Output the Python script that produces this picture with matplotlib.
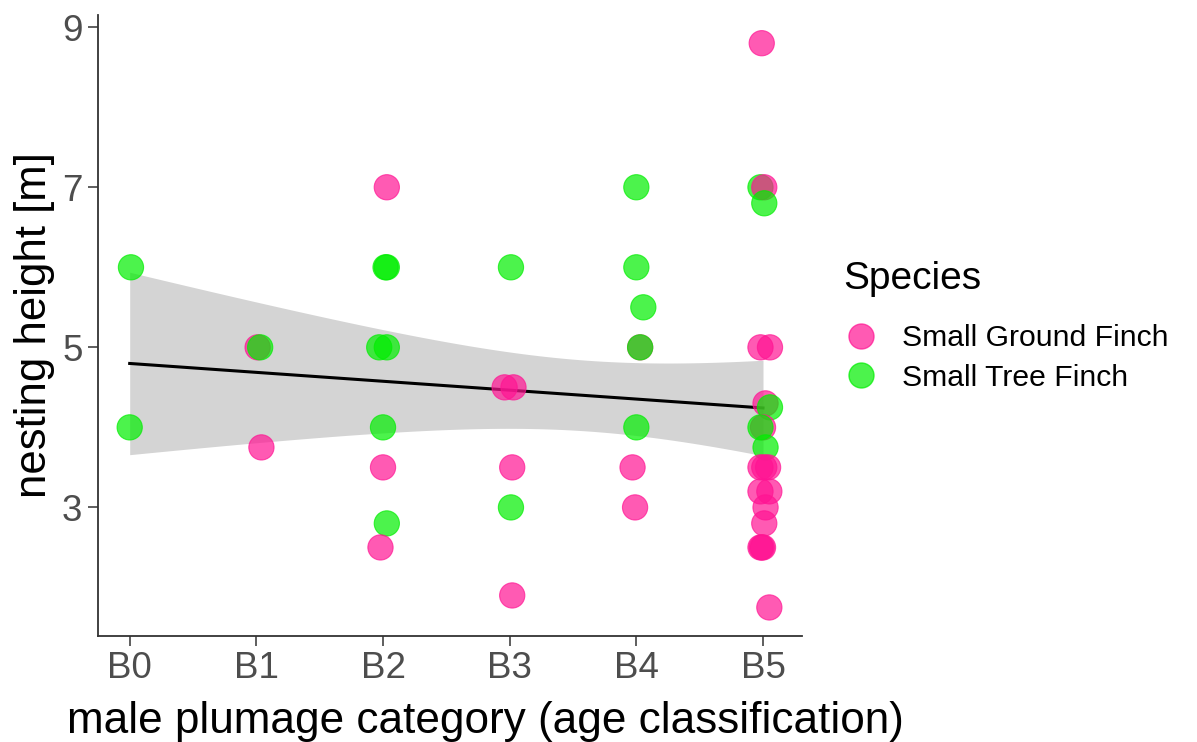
import numpy as np
import matplotlib
matplotlib.use("Agg")
import matplotlib.pyplot as plt
from matplotlib.lines import Line2D

# ---- data -------------------------------------------------------------
categories = ["B0", "B1", "B2", "B3", "B4", "B5"]
species_names = ["Small Ground Finch", "Small Tree Finch"]

# one entry per nest, in drawing order
# plumage category index (0 = B0 ... 5 = B5)
plumage = [0, 0,
           1, 1, 1,
           2, 2, 2, 2, 2, 2, 2, 2, 2,
           3, 3, 3, 3, 3, 3,
           4, 4, 4, 4, 4, 4, 4, 4,
           5, 5, 5, 5, 5, 5, 5, 5, 5, 5, 5,
           5, 5, 5, 5, 5, 5, 5, 5, 5, 5, 5]
# nesting height [m]
height = [6.0, 4.0,
          5.0, 5.0, 3.75,
          7.0, 6.0, 6.0, 5.0, 5.0, 4.0, 3.5, 2.8, 2.5,
          6.0, 4.5, 4.5, 3.5, 3.0, 1.9,
          7.0, 6.0, 5.5, 5.0, 5.0, 4.0, 3.5, 3.0,
          8.8, 7.0, 7.0, 6.8, 5.0, 5.0, 4.3, 4.25, 4.0, 4.0, 3.75,
          3.5, 3.5, 3.5, 3.2, 3.2, 3.0, 2.8, 2.5, 2.5, 2.5, 1.75]
# 0 = Small Ground Finch, 1 = Small Tree Finch
species = [1, 1,
           0, 1, 0,
           0, 1, 1, 1, 1, 1, 0, 1, 0,
           1, 0, 0, 0, 1, 0,
           1, 1, 1, 0, 1, 1, 0, 0,
           0, 1, 0, 1, 0, 0, 0, 1, 0, 1, 1,
           0, 0, 0, 0, 0, 0, 0, 0, 0, 0, 0]
# horizontal jitter of each point (category units)
x_jitter = [0.01, 0.0,
            0.01, 0.03, 0.04,
            0.03, 0.02, 0.03, -0.03, 0.03, 0.0, 0.0, 0.03, -0.02,
            0.01, -0.04, 0.03, 0.02, 0.01, 0.02,
            0.0, 0.0, 0.055, 0.03, 0.03, 0.0, -0.03, -0.01,
            -0.01, -0.02, 0.01, 0.01, -0.02, 0.055, 0.02, 0.055, 0.0, -0.02, 0.02,
            -0.02, 0.01, 0.04, -0.02, 0.05, 0.02, 0.01, -0.02, 0.0, -0.01, 0.05]

colors = ["#FF1493", "#00EE00"]

# ---- style ------------------------------------------------------------
plt.rcParams["font.family"] = ["Liberation Sans", "DejaVu Sans"]

fig = plt.figure(figsize=(11.97, 7.42), dpi=100)
ax = fig.add_axes([0.0816, 0.1433, 0.5884, 0.8365])

x = np.asarray(plumage, dtype=float)
y = np.asarray(height, dtype=float)
sp = np.asarray(species)

# ordinary least-squares fit with 95% confidence band
n = len(x)
xm = x.mean()
sxx = np.sum((x - xm) ** 2)
b1 = np.sum((x - xm) * (y - y.mean())) / sxx
b0 = y.mean() - b1 * xm
resid = y - (b0 + b1 * x)
s = np.sqrt(np.sum(resid ** 2) / (n - 2))
t_crit = 2.011
xs = np.linspace(x.min(), x.max(), 80)
fit = b0 + b1 * xs
se = s * np.sqrt(1.0 / n + (xs - xm) ** 2 / sxx)

ax.fill_between(xs, fit - t_crit * se, fit + t_crit * se, color="#D4D4D4", lw=0, zorder=1)
ax.plot(xs, fit, color="black", lw=2.2, zorder=2)

xj = x + np.asarray(x_jitter)
point_cols = [colors[k] for k in sp]
ax.scatter(xj, y, s=330, c=point_cols, alpha=0.7, edgecolors=point_cols,
           linewidths=0.8, zorder=3)

ax.margins(x=0.05, y=0.05)
ax.set_xticks(range(len(categories)))
ax.set_xticklabels(categories)
ax.set_yticks([3, 5, 7, 9])

for side in ["top", "right"]:
    ax.spines[side].set_visible(False)
for side in ["left", "bottom"]:
    ax.spines[side].set_color("#333333")
    ax.spines[side].set_linewidth(1.3)
ax.tick_params(axis="both", colors="#333333", length=7, width=1.1,
               labelsize=26.5, labelcolor="#4D4D4D", pad=4)

ax.set_xlabel("male plumage category (age classification)", fontsize=31.8,
              color="black", va="baseline")
ax.xaxis.set_label_coords(0.551, -0.1568)
ax.set_ylabel("nesting height [m]", fontsize=31.5, color="black", labelpad=5)

# legend: title placed as its own text, entries below it
fig.text(0.7043, 0.6105, "Species", fontsize=28, ha="left", va="baseline")
handles = [Line2D([], [], marker="o", linestyle="none", markersize=18,
                  markerfacecolor=c, markeredgecolor=c, alpha=0.7)
           for c in colors]
fig.legend(handles, species_names, loc="upper left",
           bbox_to_anchor=(0.6817, 0.5994), frameon=False, fontsize=21.7,
           handletextpad=0.75, labelspacing=0.38, handlelength=1.2)

fig.savefig("out.png", dpi=100)
